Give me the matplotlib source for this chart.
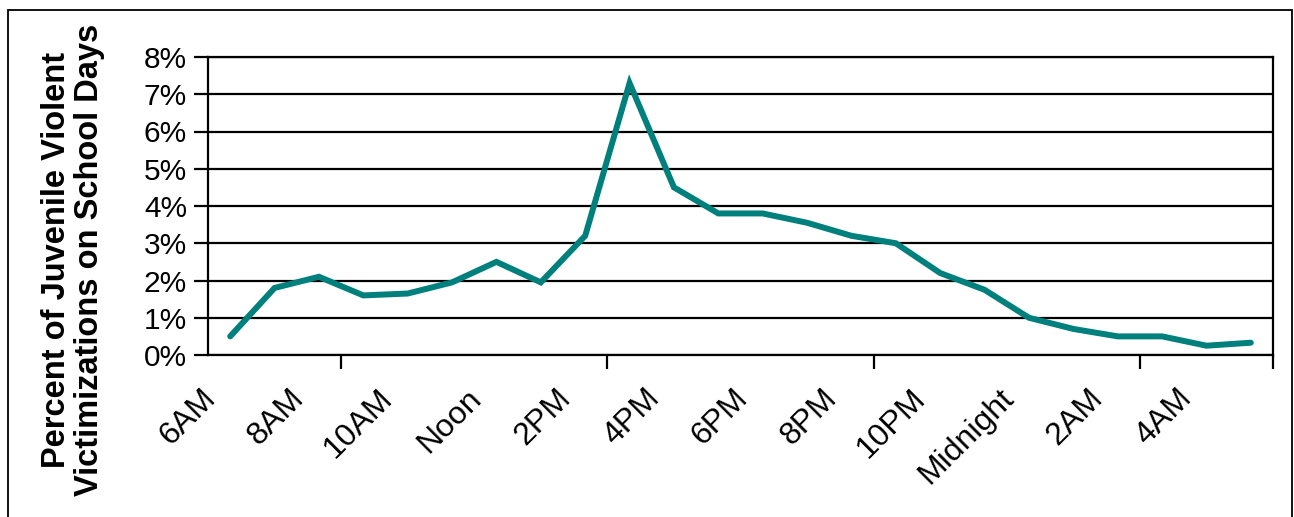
import matplotlib.pyplot as plt
import matplotlib.patches as patches
import matplotlib.transforms as mtransforms
from matplotlib.ticker import FuncFormatter

plt.rcParams['font.family'] = ['Liberation Sans', 'DejaVu Sans']

# hourly share of juvenile violent victimizations on school days, 6AM .. 5AM
hours = list(range(24))
percent = [0.5, 1.8, 2.1, 1.6, 1.65, 1.95, 2.5, 1.95, 3.2, 7.3, 4.5, 3.8,
           3.8, 3.55, 3.2, 3.0, 2.2, 1.75, 1.0, 0.7, 0.5, 0.5, 0.25, 0.33]
hour_labels = ['6AM', '8AM', '10AM', 'Noon', '2PM', '4PM', '6PM', '8PM',
               '10PM', 'Midnight', '2AM', '4AM']

fig = plt.figure(figsize=(12.94, 5.17), dpi=100)
ax = fig.add_axes([208/1294, 1-355/517, (1273-208)/1294, (355-57)/517])

x = [h + 0.5 for h in hours]
ax.plot(x, percent, color='#00807c', lw=4.3, solid_joinstyle='miter',
        solid_capstyle='round', zorder=3)

ax.set_xlim(0, 24)
ax.set_ylim(0, 8)
ax.set_yticks(range(0, 9))
ax.yaxis.set_major_formatter(FuncFormatter(lambda v, p: '%d%%' % v))
ax.grid(axis='y', color='black', lw=1.6)
ax.set_axisbelow(True)

# tick marks every 3 hours, labels every 2 hours
ax.set_xticks(range(0, 25, 3), minor=True)
ax.set_xticks(range(0, 24, 2))
ax.set_xticklabels(hour_labels, rotation=45, ha='right', va='center',
                   rotation_mode='anchor')
ax.tick_params(axis='x', which='major', length=0, pad=28, labelsize=23)
ax.tick_params(axis='x', which='minor', length=10, width=1.6, direction='out')
ax.tick_params(axis='y', length=10, width=1.6, direction='out', labelsize=21.5,
               pad=5)
offset = mtransforms.ScaledTranslation(3/100, 0, fig.dpi_scale_trans)
for lab in ax.get_xticklabels():
    lab.set_transform(lab.get_transform() + offset)

for s in ax.spines.values():
    s.set_linewidth(1.6)
    s.set_color('black')

fig.text(73/1294, 1-260/517,
         'Percent of Juvenile Violent\nVictimizations on School Days',
         rotation=90, ha='center', va='center', multialignment='center',
         fontsize=23.5, fontweight='bold', linespacing=1.05)

fig.patches.append(patches.Rectangle((8/1294, -0.05), (1292-8)/1294, 1.05-10/517,
                                     transform=fig.transFigure, fill=False,
                                     edgecolor='black', lw=1.3))

fig.savefig('out.png', dpi=100)
